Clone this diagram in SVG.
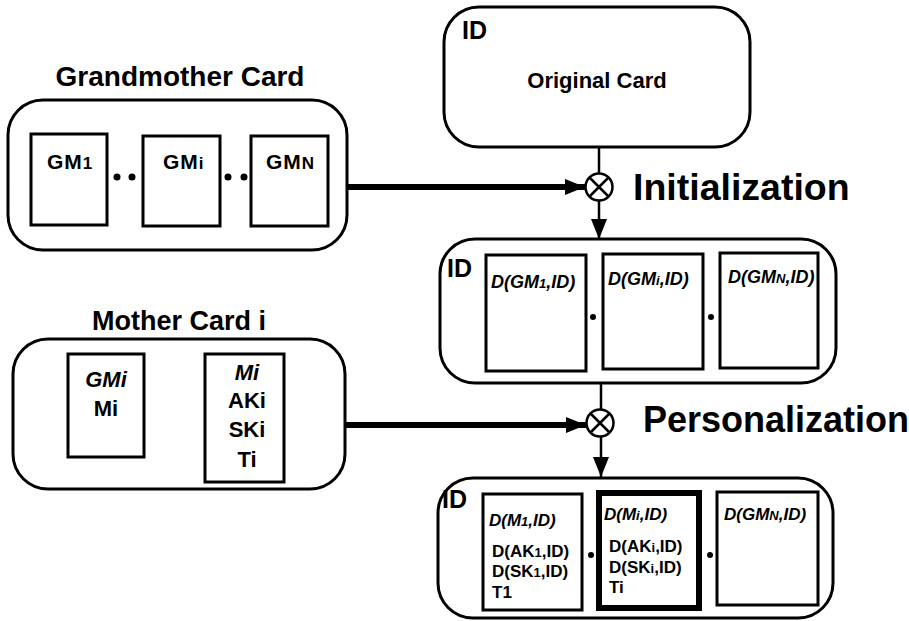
<svg xmlns="http://www.w3.org/2000/svg" width="909" height="621" viewBox="0 0 909 621">
<defs>
<style>
.outer{fill:#fff;stroke:#000;stroke-width:3}
.inner{fill:#fff;stroke:#000;stroke-width:3}
.thickbox{fill:#fff;stroke:#000;stroke-width:6}
.t{font-family:"Liberation Sans",Arial,sans-serif;font-weight:bold;fill:#000}
.it{font-style:italic}
.conn{stroke:#000;fill:none}
.dot{fill:#000}
</style>
<marker id="ah" markerUnits="userSpaceOnUse" markerWidth="20" markerHeight="16" refX="20" refY="8" orient="auto">
<path d="M0,0 L20,8 L0,16 Z" fill="#000"/>
</marker>
</defs>
<rect width="909" height="621" fill="#fff"/>

<g id="grandmother">
<text class="t" x="180" y="86" font-size="28" text-anchor="middle">Grandmother Card</text>
<rect class="outer" x="8" y="100" width="339" height="150" rx="35"/>
<rect class="inner" x="31" y="134" width="76" height="91"/>
<rect class="inner" x="143" y="136" width="77" height="90"/>
<rect class="inner" x="251" y="136" width="77" height="90"/>
<text class="t" x="47" y="169" font-size="21" letter-spacing="1">GM<tspan font-size="17">1</tspan></text>
<text class="t" x="163" y="169" font-size="21" letter-spacing="1">GM<tspan font-size="17">i</tspan></text>
<text class="t" x="266" y="169" font-size="21" letter-spacing="1">GM<tspan font-size="17">N</tspan></text>
<circle class="dot" cx="117" cy="177" r="3.5"/>
<circle class="dot" cx="132" cy="177" r="3.5"/>
<circle class="dot" cx="228" cy="177" r="3.5"/>
<circle class="dot" cx="244" cy="177" r="3.5"/>
</g>

<g id="original">
<rect class="outer" x="444" y="7" width="306" height="140" rx="35"/>
<text class="t" x="462" y="39" font-size="25">ID</text>
<text class="t" x="597" y="88" font-size="22" text-anchor="middle">Original Card</text>
</g>

<g id="init-op">
<circle cx="599" cy="187" r="13.5" fill="#fff" stroke="#000" stroke-width="2.5"/>
<path d="M589.5,177.5 L608.5,196.5 M608.5,177.5 L589.5,196.5" stroke="#000" stroke-width="2.5"/>
<text class="t" x="633" y="200" font-size="37.5">Initialization</text>
</g>

<g id="initialized">
<rect class="outer" x="440" y="239" width="396" height="144" rx="35"/>
<text class="t" x="447" y="277" font-size="25">ID</text>
<rect class="inner" x="486" y="255" width="100" height="116"/>
<rect class="inner" x="603" y="254" width="100" height="115"/>
<rect class="inner" x="720" y="253" width="98" height="115"/>
<text class="t it" x="491" y="288" font-size="18">D(GM<tspan font-size="13">1</tspan>,ID)</text>
<text class="t it" x="608" y="285" font-size="18">D(GM<tspan font-size="13">i</tspan>,ID)</text>
<text class="t it" x="728" y="283" font-size="18">D(GM<tspan font-size="13">N</tspan>,ID)</text>
<circle class="dot" cx="593" cy="317" r="3"/>
<circle class="dot" cx="711" cy="317" r="3"/>
</g>

<g id="mother">
<text class="t" x="179" y="330" font-size="27" text-anchor="middle">Mother Card i</text>
<rect class="outer" x="13" y="339" width="332" height="150" rx="35"/>
<rect class="inner" x="68" y="354" width="76" height="103"/>
<rect class="inner" x="205" y="354" width="79" height="128"/>
<text class="t it" x="106" y="387" font-size="22" text-anchor="middle">GMi</text>
<text class="t" x="106" y="416" font-size="22" text-anchor="middle">Mi</text>
<text class="t it" x="247" y="380" font-size="22" text-anchor="middle">Mi</text>
<text class="t" x="247" y="408" font-size="22" text-anchor="middle">AKi</text>
<text class="t" x="247" y="437" font-size="22" text-anchor="middle">SKi</text>
<text class="t" x="247" y="467" font-size="22" text-anchor="middle">Ti</text>
</g>

<g id="pers-op">
<circle cx="600" cy="423" r="13.5" fill="#fff" stroke="#000" stroke-width="2.5"/>
<path d="M590.5,413.5 L609.5,432.5 M609.5,413.5 L590.5,432.5" stroke="#000" stroke-width="2.5"/>
<text class="t" x="643" y="432" font-size="36">Personalization</text>
</g>

<g id="personalized">
<rect class="outer" x="438" y="478" width="395" height="140" rx="35"/>
<text class="t" x="442" y="508" font-size="25">ID</text>
<rect class="inner" x="483" y="494" width="99" height="116"/>
<rect class="thickbox" x="599" y="493" width="100" height="115"/>
<rect class="inner" x="717" y="492" width="101" height="113"/>
<text class="t it" x="489" y="526" font-size="17">D(M<tspan font-size="13">1</tspan>,ID)</text>
<text class="t" x="492" y="557" font-size="17">D(AK<tspan font-size="13">1</tspan>,ID)</text>
<text class="t" x="492" y="577" font-size="17">D(SK<tspan font-size="13">1</tspan>,ID)</text>
<text class="t" x="492" y="598" font-size="17">T1</text>
<text class="t it" x="604" y="520" font-size="17">D(M<tspan font-size="13">i</tspan>,ID)</text>
<text class="t" x="609" y="552" font-size="17">D(AK<tspan font-size="13">i</tspan>,ID)</text>
<text class="t" x="609" y="573" font-size="17">D(SK<tspan font-size="13">i</tspan>,ID)</text>
<text class="t" x="609" y="593" font-size="17">Ti</text>
<text class="t it" x="724" y="520" font-size="17">D(GM<tspan font-size="13">N</tspan>,ID)</text>
<circle class="dot" cx="591" cy="555" r="3"/>
<circle class="dot" cx="710" cy="555" r="3"/>
</g>

<g id="connectors">
<line class="conn" x1="347" y1="187" x2="585" y2="187" stroke-width="6" marker-end="url(#ah)"/>
<line class="conn" x1="599" y1="147" x2="599" y2="173" stroke-width="2.5"/>
<line class="conn" x1="599" y1="201" x2="599" y2="239" stroke-width="2.5" marker-end="url(#ah)"/>
<line class="conn" x1="345" y1="425" x2="586" y2="425" stroke-width="6" marker-end="url(#ah)"/>
<line class="conn" x1="601" y1="383" x2="601" y2="409" stroke-width="2.5"/>
<line class="conn" x1="601" y1="437" x2="601" y2="477" stroke-width="2.5" marker-end="url(#ah)"/>
</g>
</svg>
